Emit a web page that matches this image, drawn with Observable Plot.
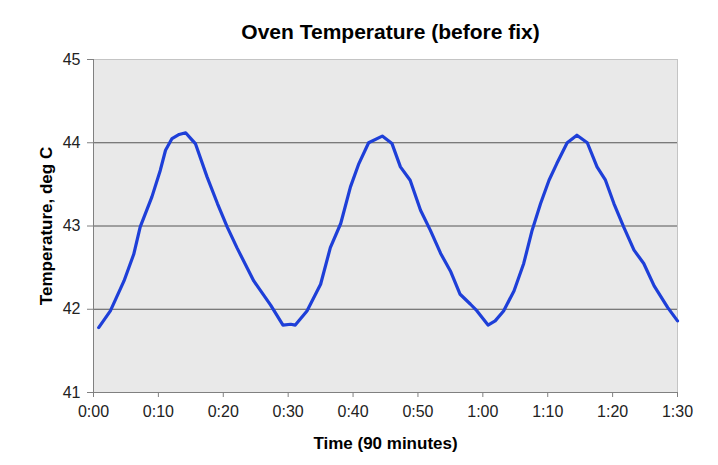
<!DOCTYPE html>
<html><head><meta charset="utf-8">
<script src="https://cdn.jsdelivr.net/npm/d3@7"></script>
<script src="https://cdn.jsdelivr.net/npm/@observablehq/plot@0.6"></script>
<style>body{margin:0;background:#fff;}</style>
</head><body><div id="chart"></div>
<script>
const minutes = [0.8, 2.6, 4.7, 6.2, 7.2, 9.0, 10.3, 11.1, 12.1, 13.2, 14.2, 15.0, 15.7, 17.5, 19.1, 20.6, 22.1, 24.7, 27.3, 29.2, 30.4, 31.1, 32.9, 35.0, 36.5, 38.1, 39.6, 40.9, 42.4, 44.5, 46.0, 47.3, 48.8, 50.4, 51.9, 53.5, 55.0, 56.5, 58.1, 59.1, 60.8, 61.9, 63.2, 64.8, 66.3, 67.6, 68.9, 70.2, 71.4, 73.0, 74.5, 76.1, 77.6, 78.9, 80.2, 81.7, 83.3, 84.8, 86.4, 88.5, 90.0];
const temps = [41.78, 41.98, 42.34, 42.66, 42.99, 43.35, 43.67, 43.91, 44.05, 44.10, 44.12, 44.05, 43.99, 43.59, 43.27, 42.99, 42.74, 42.34, 42.05, 41.81, 41.82, 41.81, 41.98, 42.30, 42.74, 43.03, 43.47, 43.75, 44.00, 44.08, 43.99, 43.71, 43.55, 43.19, 42.95, 42.67, 42.46, 42.18, 42.06, 41.98, 41.81, 41.86, 41.98, 42.22, 42.55, 42.95, 43.27, 43.55, 43.75, 44.00, 44.09, 44.00, 43.71, 43.55, 43.27, 42.99, 42.71, 42.55, 42.28, 42.02, 41.86];
const xTicks = [0, 10, 20, 30, 40, 50, 60, 70, 80, 90];
const yTicks = [41, 42, 43, 44, 45];
const gridValues = [42, 43, 44];
const title = "Oven Temperature (before fix)";
const xTitle = "Time (90 minutes)";
const yTitle = "Temperature, deg C";

const data = minutes.map((m, i) => ({m, t: temps[i]}));
const fmt = m => `${Math.floor(m / 60)}:${String(m % 60).padStart(2, "0")}`;

const chart = Plot.plot({
  width: 718, height: 465,
  marginLeft: 93, marginRight: 41, marginTop: 59, marginBottom: 73,
  style: {fontFamily: "'Liberation Sans', Arial, sans-serif", fontSize: "16px", color: "#000", background: "#fff"},
  x: {domain: [0, 90]},
  y: {domain: [41, 45]},
  marks: [
    Plot.frame({fill: "#e9e9e9", stroke: "#c4c4c4"}),
    Plot.ruleY(gridValues, {stroke: "#555", strokeWidth: 1}),
    Plot.ruleX([0], {stroke: "#808080"}),
    Plot.ruleY([41], {stroke: "#808080"}),
    Plot.axisX({ticks: xTicks, tickFormat: fmt, tickSize: 5, tickPadding: 8, label: null, stroke: "#808080", fill: "#222", fontSize: 16}),
    Plot.axisY({ticks: yTicks, tickFormat: d => String(d), tickSize: 6, tickPadding: 7, label: null, stroke: "#808080", fill: "#222", fontSize: 16}),
    Plot.line(data, {x: "m", y: "t", stroke: "#1e3fd8", strokeWidth: 3.2, strokeLinejoin: "round"}),
    Plot.text([title], {frameAnchor: "top", lineAnchor: "middle", dy: -27, dx: 5, fontWeight: "bold", fontSize: 21, fill: "#000"}),
    Plot.text([xTitle], {frameAnchor: "bottom", lineAnchor: "middle", dy: 51, fontWeight: "bold", fontSize: 17, fill: "#000"}),
    Plot.text([yTitle], {frameAnchor: "left", textAnchor: "middle", lineAnchor: "middle", dx: -47, rotate: -90, fontWeight: "bold", fontSize: 17, fill: "#000"})
  ]
});
document.getElementById("chart").appendChild(chart);
</script>
</body></html>
